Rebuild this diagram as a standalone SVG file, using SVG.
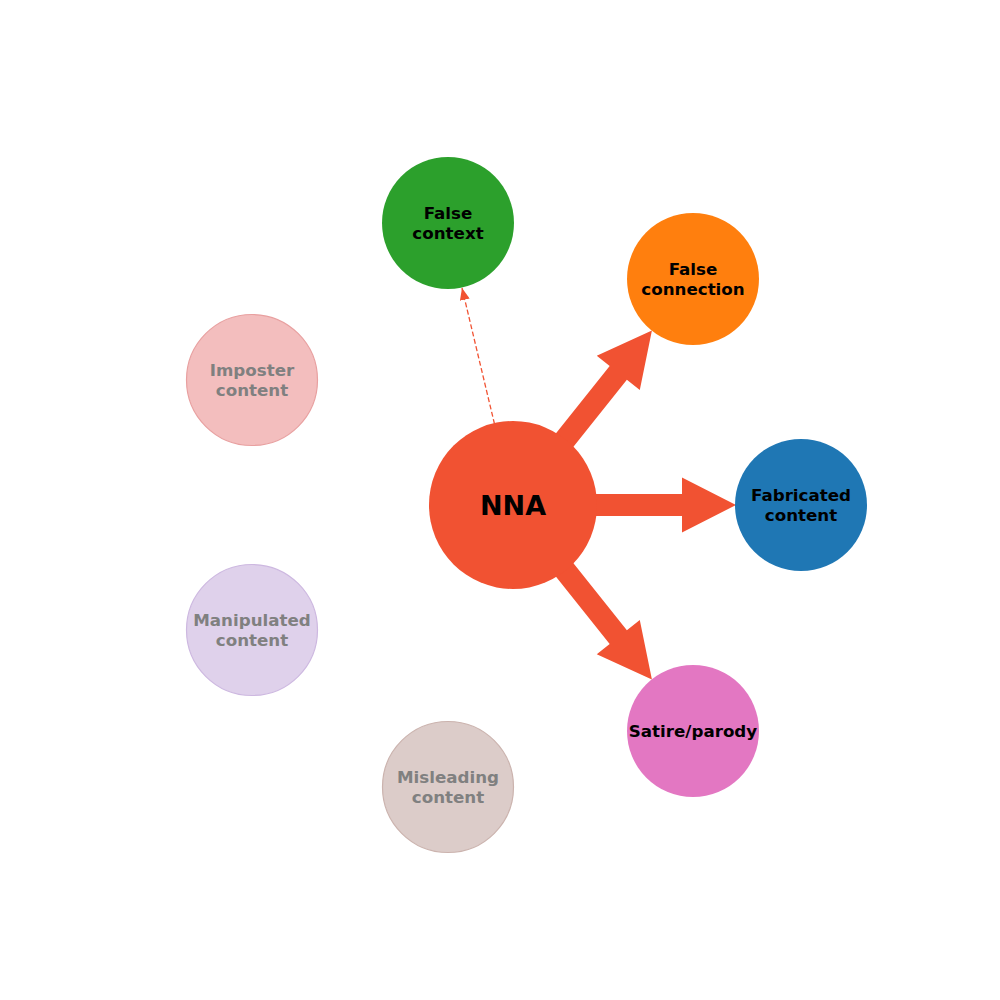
<svg xmlns="http://www.w3.org/2000/svg" width="1000" height="1000" viewBox="0 0 1000 1000">
<style>
text{font-family:"DejaVu Sans","Liberation Sans",sans-serif;font-weight:bold;text-anchor:middle;dominant-baseline:central;font-size:16.7px;fill:#000}
.faded text{fill:#808080}
.big{font-size:27px}
.arrow{fill:#f15232}
</style>
<defs>
<marker id="head" viewBox="0 0 12 10" refX="12" refY="5" markerWidth="12" markerHeight="10" markerUnits="userSpaceOnUse" orient="auto">
<path d="M0,0 L12,5 L0,10 Z" fill="#f15232"/>
</marker>
<path id="fancy" d="M80,-11 L169,-11 L169,-27.5 L223,0 L169,27.5 L169,11 L80,11 Z"/>
</defs>
<rect width="1000" height="1000" fill="#fff"/>
<g id="connectors">
<g class="arrow" transform="translate(513,505)">
<use href="#fancy"/>
<use href="#fancy" transform="rotate(-51.47)"/>
<use href="#fancy" transform="rotate(51.47)"/>
</g>
<line x1="494.5" y1="424" x2="462" y2="288" stroke="#f15232" stroke-width="1.3" stroke-dasharray="5,2.5" marker-end="url(#head)"/>
</g>
<g id="node-nna"><circle cx="513" cy="505" r="84" fill="#f15232"/><text class="big" x="513" y="505">NNA</text></g>
<g id="node-false-context"><circle cx="448" cy="223" r="66" fill="#2ca02c"/><text x="448" y="223"><tspan x="448" dy="-10">False</tspan><tspan x="448" dy="20">context</tspan></text></g>
<g id="node-false-connection"><circle cx="693" cy="279" r="66" fill="#ff7f0e"/><text x="693" y="279"><tspan x="693" dy="-10">False</tspan><tspan x="693" dy="20">connection</tspan></text></g>
<g id="node-fabricated"><circle cx="801" cy="505" r="66" fill="#1f77b4"/><text x="801" y="505"><tspan x="801" dy="-10">Fabricated</tspan><tspan x="801" dy="20">content</tspan></text></g>
<g id="node-satire"><circle cx="693" cy="731" r="66" fill="#e377c2"/><text x="693" y="731">Satire/parody</text></g>
<g id="node-imposter" class="faded"><circle cx="252" cy="380" r="65.5" fill="#f3bebe" stroke="#e8a0a0" stroke-width="1.2"/><text x="252" y="380"><tspan x="252" dy="-10">Imposter</tspan><tspan x="252" dy="20">content</tspan></text></g>
<g id="node-manipulated" class="faded"><circle cx="252" cy="630" r="65.5" fill="#dfd1eb" stroke="#cdb8e0" stroke-width="1.2"/><text x="252" y="630"><tspan x="252" dy="-10">Manipulated</tspan><tspan x="252" dy="20">content</tspan></text></g>
<g id="node-misleading" class="faded"><circle cx="448" cy="787" r="65.5" fill="#dcccc9" stroke="#cbb3ae" stroke-width="1.2"/><text x="448" y="787"><tspan x="448" dy="-10">Misleading</tspan><tspan x="448" dy="20">content</tspan></text></g>
</svg>
